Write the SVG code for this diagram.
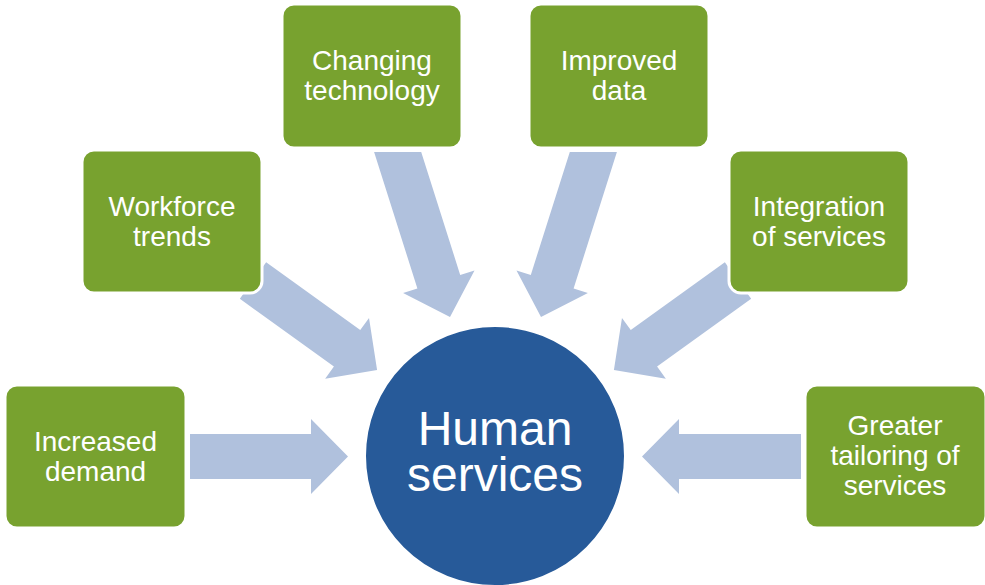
<svg xmlns="http://www.w3.org/2000/svg" width="985" height="585" viewBox="0 0 985 585">
<style>
.arrow{fill:#B0C1DD;stroke:none}
.box{fill:#78A22F;stroke:#FFFFFF;stroke-width:3}
.lbl{font-family:"Liberation Sans",Arial,sans-serif;font-size:28px;fill:#FFFFFF;text-anchor:middle}
.hub{fill:#275A99;stroke:#FFFFFF;stroke-width:2}
.hubt{font-family:"Liberation Sans",Arial,sans-serif;font-size:48px;fill:#FFFFFF;text-anchor:middle}
</style>
<rect width="985" height="585" fill="#FFFFFF"/>
<g id="connectors">
<path class="arrow" d="M0,-22.5 H121 V-37.5 L158,0 L121,37.5 V22.5 H0 Z" transform="translate(190,456.5)"/>
<path class="arrow" d="M0,-22.5 H122 V-37.5 L159,0 L122,37.5 V22.5 H0 Z" transform="translate(801,456.5) rotate(180)"/>
<path class="arrow" d="M0,-22.5 H116 V-37.5 L153,0 L116,37.5 V22.5 H0 Z" transform="translate(253,280.5) rotate(35.8)"/>
<path class="arrow" d="M0,-22.5 H116 V-37.5 L153,0 L116,37.5 V22.5 H0 Z" transform="translate(738,280.5) rotate(144.2)"/>
<polygon class="arrow" points="374.1,152 421.2,152 460.2,274.9 474.5,270.4 450,317 403.1,293 417.4,288.5"/>
<polygon class="arrow" points="616.9,152 569.8,152 530.8,274.9 516.5,270.4 541,317 587.9,293 573.6,288.5"/>
</g>
<g id="hub">
<circle class="hub" cx="495" cy="456" r="130"/>
<text class="hubt" x="495" y="445">Human</text>
<text class="hubt" x="495" y="491">services</text>
</g>
<g id="node-increased-demand">
<rect class="box" x="5" y="385" width="181" height="143" rx="12"/>
<text class="lbl" x="95.5" y="450.5">Increased</text>
<text class="lbl" x="95.5" y="480.5">demand</text>
</g>
<g id="node-workforce-trends">
<rect class="box" x="82" y="150" width="180" height="143" rx="12"/>
<text class="lbl" x="172" y="215.5">Workforce</text>
<text class="lbl" x="172" y="245.5">trends</text>
</g>
<g id="node-changing-technology">
<rect class="box" x="282" y="4" width="180" height="144" rx="12"/>
<text class="lbl" x="372" y="70">Changing</text>
<text class="lbl" x="372" y="100">technology</text>
</g>
<g id="node-improved-data">
<rect class="box" x="529" y="4" width="180" height="144" rx="12"/>
<text class="lbl" x="619" y="70">Improved</text>
<text class="lbl" x="619" y="100">data</text>
</g>
<g id="node-integration-of-services">
<rect class="box" x="729" y="150" width="180" height="143" rx="12"/>
<text class="lbl" x="819" y="215.5">Integration</text>
<text class="lbl" x="819" y="245.5">of services</text>
</g>
<g id="node-greater-tailoring">
<rect class="box" x="805" y="385" width="181" height="143" rx="12"/>
<text class="lbl" x="895" y="435">Greater</text>
<text class="lbl" x="895" y="465">tailoring of</text>
<text class="lbl" x="895" y="495">services</text>
</g>
</svg>
